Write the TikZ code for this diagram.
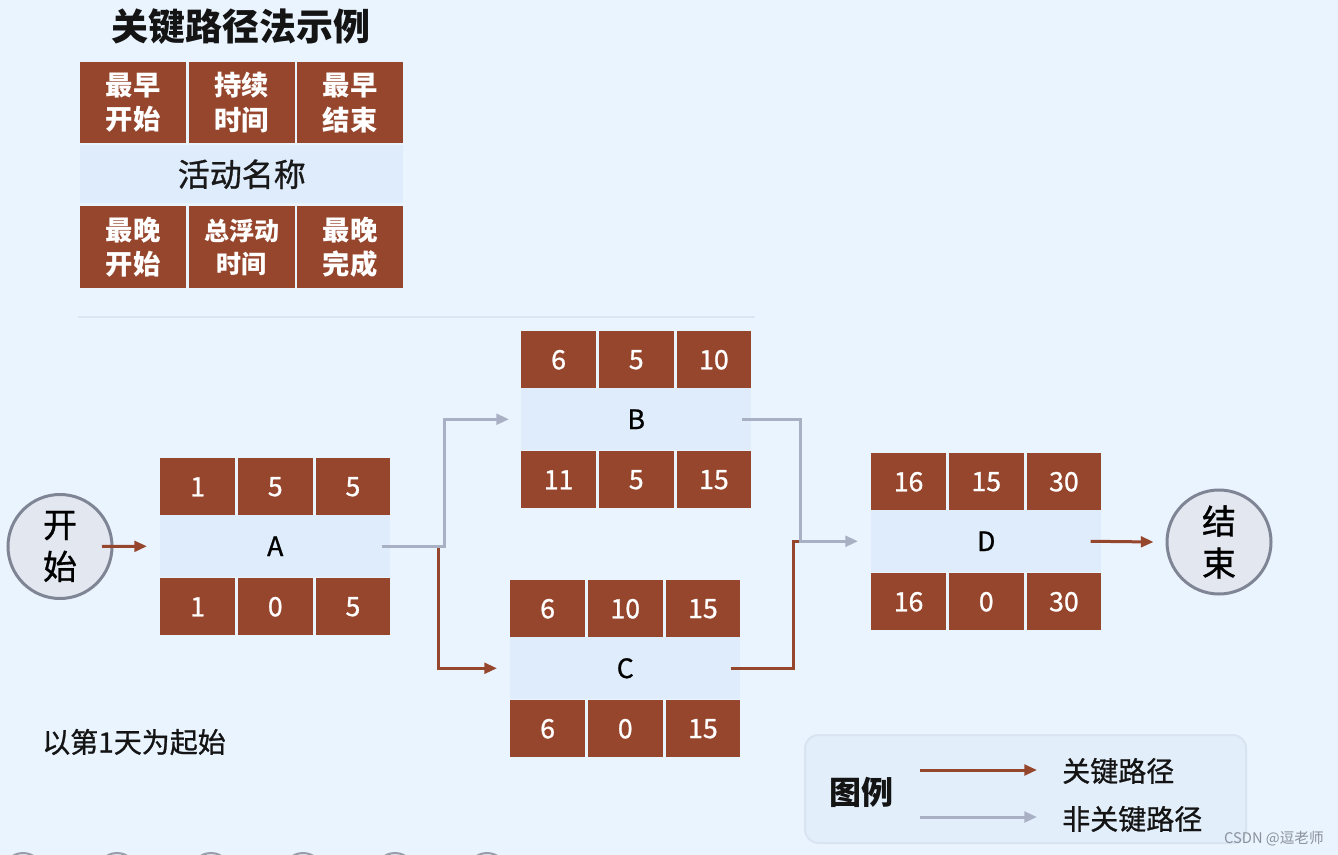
\documentclass[tikz,border=0pt]{standalone}
\usepackage{fontspec}
\setmainfont{Noto Sans CJK SC}
\newfontfamily\medfont{Noto Sans CJK SC}[FakeBold=0.9]
\usetikzlibrary{calc,arrows.meta}
\definecolor{bg}{HTML}{EAF4FE}
\definecolor{brick}{HTML}{96462C}
\definecolor{bandc}{HTML}{DEECFB}
\definecolor{grayarrow}{HTML}{A9B0C4}
\definecolor{circfill}{HTML}{E2E7F0}
\definecolor{circdraw}{HTML}{7F8594}
\definecolor{sepline}{HTML}{DAE6F3}
\definecolor{legfill}{HTML}{E3EEFB}
\definecolor{legdraw}{HTML}{D8E4F2}
\definecolor{wm}{HTML}{8A909C}
\def\PX{0.75pt}

\newcommand\actbox[8]{%
  \node[acell] (#1-es) at (0,0) {#2};
  \node[acell] (#1-du) at (77.67,0) {#3};
  \node[acell] (#1-ef) at (155.33,0) {#4};
  \node[aband] (#1) at (0,57) {#5};
  \node[acell] (#1-ls) at (0,120) {#6};
  \node[acell] (#1-tf) at (77.67,120) {#7};
  \node[acell] (#1-lf) at (155.33,120) {#8};
}

\begin{document}
\begin{tikzpicture}[x=0.75pt,y=-0.75pt,
  lcell/.style={rectangle, fill=brick, inner sep=0pt, anchor=north west, text=white,
    align=center, font=\bfseries\fontsize{20.5}{26}\selectfont,
    minimum width=106*\PX},
  lband/.style={rectangle, fill=bandc, inner sep=0pt, anchor=north west, text=black!90,
    font=\medfont\fontsize{24}{28}\selectfont, minimum width=323*\PX, minimum height=58*\PX},
  acell/.style={rectangle, fill=brick, inner sep=0pt, anchor=north west, text=white,
    font=\medfont\fontsize{20}{23}\selectfont, minimum width=74.67*\PX, minimum height=57*\PX},
  aband/.style={rectangle, fill=bandc, inner sep=0pt, anchor=north west, text=black,
    font=\medfont\fontsize{20}{23}\selectfont, minimum width=230*\PX, minimum height=62*\PX},
  term/.style={circle, fill=circfill, draw=circdraw, line width=3*\PX, inner sep=0pt,
    minimum size=104*\PX, align=center, font=\medfont\fontsize{25.5}{31.5}\selectfont},
  crit/.style={draw=brick, line width=3*\PX, -{Triangle[length=9.5pt,width=8pt]}},
  critline/.style={draw=brick, line width=3*\PX},
  noncrit/.style={draw=grayarrow, line width=3*\PX, -{Triangle[length=9.5pt,width=8pt]}},
  plain/.style={inner sep=0pt, text=black!92}
]
\useasboundingbox (0,0) rectangle (1338,855);
\fill[bg] (0,0) rectangle (1338,855);
\begin{scope}
  \clip (0,0) rectangle (1338,855);
  \foreach \cx in {23,117,211,303,395,487}
    \draw[draw=circdraw!80, fill=circfill, line width=2*\PX] (\cx,873) circle[radius=20];
\end{scope}

% title and key table
\node[plain, font=\bfseries\fontsize{27.75}{32}\selectfont] (title) at (241,27) {关键路径法示例};
\node[lcell, minimum height=81*\PX] (k-es) at (80,62) {最早\\开始};
\node[lcell, minimum height=81*\PX] (k-du) at (188.5,62) {持续\\时间};
\node[lcell, minimum height=81*\PX] (k-ef) at (297,62) {最早\\结束};
\node[lband] (k-name) at (80,145) {活动名称};
\node[lcell, minimum height=82*\PX] (k-ls) at (80,206) {最晚\\开始};
\node[lcell, minimum height=82*\PX, font=\bfseries\fontsize{18.75}{24.75}\selectfont] (k-tf) at (188.5,206) {总浮动\\时间};
\node[lcell, minimum height=82*\PX] (k-lf) at (297,206) {最晚\\完成};

\draw[sepline, line width=1.2*\PX] (78,317) -- (755,317);

% activity boxes
\begin{scope}[shift={(160,458)}]\actbox{A}{1}{5}{5}{A}{1}{0}{5}\end{scope}
\begin{scope}[shift={(521,331)}]\actbox{B}{6}{5}{10}{B}{11}{5}{15}\end{scope}
\begin{scope}[shift={(510,580)}]\actbox{C}{6}{10}{15}{C}{6}{0}{15}\end{scope}
\begin{scope}[shift={(871,453)}]\actbox{D}{16}{15}{30}{D}{16}{0}{30}\end{scope}

% start / end
\node[term] (start) at (60,546.5) {开\\始};
\node[term] (end) at (1219,542) {结\\束};

% connectors
\draw[crit] ($(start.center)+(42,0)$) -- ($(A.west)+(-13,0)$);
\draw[crit] ($(A.east)+(-9,0)$) -| ($(C.west)+(-72,0)$) -- ($(C.west)+(-13,0)$);
\draw[noncrit] ($(A.east)+(-9,0)$) -| ($(B.west)+(-77,0)$) -- ($(B.west)+(-12,0)$);
\draw[critline] ($(C.east)+(-10,0)$) -| ($(D.west)+(-78,0)$) -- ($(D.west)+(-70,0)$);
\draw[noncrit] ($(B.east)+(-10,0)$) -| ($(D.west)+(-71,0)$) -- ($(D.west)+(-13,0)$);
\draw[crit] ($(D.east)+(-11,0)$) -- ($(end.west)+(-12,0)$);

% note
\node[plain, anchor=west, font=\medfont\fontsize{21}{25}\selectfont] (note) at (42,742) {以第1天为起始};

% legend
\draw[fill=legfill, draw=legdraw, line width=2*\PX, rounded corners=10pt] (805,735) rectangle (1246,843);
\node[plain, font=\bfseries\fontsize{24}{28}\selectfont] (legtitle) at (861,792) {图例};
\coordinate (lg1s) at (920,770);
\coordinate (lg1e) at (1037,770);
\coordinate (lg2s) at (920,817);
\coordinate (lg2e) at (1037,817);
\draw[crit] (lg1s) -- (lg1e);
\draw[noncrit] (lg2s) -- (lg2e);
\node[plain, anchor=west, font=\medfont\fontsize{21}{25}\selectfont] (lg1) at (1062,771) {关键路径};
\node[plain, anchor=west, font=\medfont\fontsize{21}{25}\selectfont] (lg2) at (1062,819) {非关键路径};

\node[inner sep=0pt, anchor=east, text=wm, font=\fontsize{11}{12}\selectfont] (wmark) at (1324,839) {CSDN @逗老师};
\end{tikzpicture}
\end{document}
